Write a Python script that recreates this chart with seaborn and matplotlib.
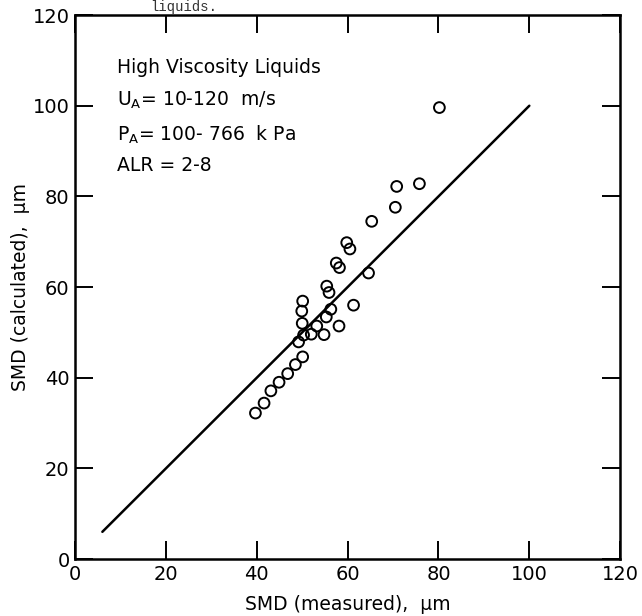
import numpy as np
import pandas as pd
import seaborn as sns
import matplotlib
matplotlib.use("Agg")
import matplotlib.pyplot as plt

# SMD measured vs calculated, high viscosity liquids
smd_measured = [80.2, 70.8, 75.8, 70.5, 65.3, 59.8, 60.5, 57.5, 58.2, 64.6,
                55.4, 55.9, 50.1, 49.9, 56.3, 55.3, 61.3, 50.0, 53.2, 58.1,
                54.8, 52.0, 50.3, 49.2, 50.1, 48.5, 46.8, 44.9, 43.1, 41.6, 39.7]
smd_calculated = [99.6, 82.2, 82.8, 77.6, 74.5, 69.8, 68.4, 65.3, 64.3, 63.1,
                  60.2, 58.8, 56.9, 54.7, 55.1, 53.4, 56.0, 52.0, 51.4, 51.4,
                  49.5, 49.6, 49.4, 47.9, 44.6, 42.9, 40.9, 39.0, 37.1, 34.4, 32.2]
# line of perfect agreement
line_x = [6, 100]
line_y = [6, 100]
ticks = [0, 20, 40, 60, 80, 100, 120]
tick_labels = ["0", "20", "40", "60", "80", "100", "120"]

df = pd.DataFrame({"measured": smd_measured, "calculated": smd_calculated})
ref = pd.DataFrame({"x": line_x, "y": line_y})

sns.set_style("ticks")
plt.rcParams["font.family"] = ["DejaVu Sans"]
plt.rcParams["text.color"] = "black"
plt.rcParams["axes.labelcolor"] = "black"

fig = plt.figure(figsize=(6.42, 6.16), dpi=100)
ax = fig.add_axes([0.117, 0.0925, 0.849, 0.883])

sns.lineplot(data=ref, x="x", y="y", color="black", linewidth=1.8, ax=ax)
sns.scatterplot(data=df, x="measured", y="calculated", marker="o",
                facecolor="none", edgecolor="black", linewidth=1.4, s=60, ax=ax)

ax.set_xlim(0, 120)
ax.set_ylim(0, 120)
ax.set_xticks(ticks)
ax.set_xticklabels(tick_labels)
ax.set_yticks(ticks)
ax.set_yticklabels(tick_labels)
ax.tick_params(direction="in", length=13, width=1.4, labelsize=14,
               top=True, right=True, pad=4, colors="black")
for s in ax.spines.values():
    s.set_linewidth(1.8)
    s.set_color("black")

ax.set_xlabel("SMD (measured),  μm", fontsize=13.5, labelpad=8)
ax.set_ylabel("SMD (calculated),  μm", fontsize=13.5, labelpad=2)

ax.text(9.2, 107.3, "High Viscosity Liquids", fontsize=13.5)
ax.text(9.2, 100, r"U$_{\mathrm{A}}$= 10-120  m/s", fontsize=13.5)
ax.text(9.2, 92.2, r"P$_{\mathrm{A}}$= 100- 766  k Pa", fontsize=13.5)
ax.text(9.2, 85.6, "ALR = 2-8", fontsize=13.5)

# caption fragment from the page above the chart
fig.text(150 / 642, 1 - 11 / 616, "liquids.", fontsize=10,
         family="Liberation Mono", va="baseline", color="#333333")

fig.savefig("out.png", dpi=100)
